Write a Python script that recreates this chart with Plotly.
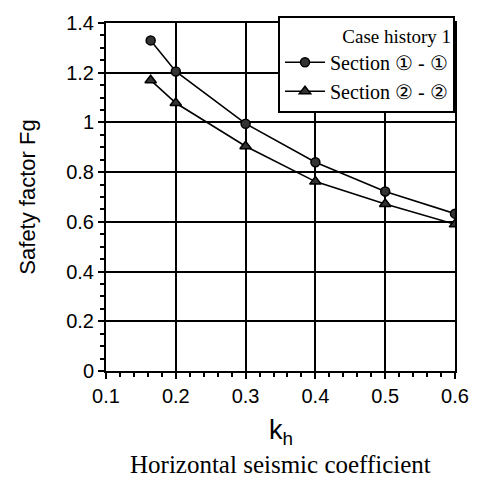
import plotly.graph_objects as go

kh = [0.164, 0.2, 0.3, 0.4, 0.5, 0.6]
fg_sec1 = [1.33, 1.205, 0.995, 0.84, 0.722, 0.633]
fg_sec2 = [1.17, 1.078, 0.904, 0.762, 0.672, 0.59]
x_ticks = [0.1, 0.2, 0.3, 0.4, 0.5, 0.6]
y_ticks = [0, 0.2, 0.4, 0.6, 0.8, 1.0, 1.2, 1.4]
y_labels = ["0", "0.2", "0.4", "0.6", "0.8", "1", "1.2", "1.4"]

fig = go.Figure()
fig.add_trace(go.Scatter(
    x=kh, y=fg_sec1, mode="lines+markers", name="Section \u2460 - \u2460",
    line=dict(color="black", width=1.6),
    marker=dict(symbol="circle", size=9, color="#333", line=dict(color="black", width=1.5)),
))
fig.add_trace(go.Scatter(
    x=kh, y=fg_sec2, mode="lines+markers", name="Section \u2461 - \u2461",
    line=dict(color="black", width=1.6),
    marker=dict(symbol="triangle-up", size=10, color="#333", line=dict(color="black", width=1.5)),
))

axis_font = dict(family="Liberation Sans, Arial", size=20, color="black")
fig.update_xaxes(
    range=[0.1, 0.6], tickvals=x_ticks, ticktext=[str(v) for v in x_ticks],
    showgrid=True, gridcolor="black", gridwidth=1.6,
    showline=True, linecolor="black", linewidth=2, mirror=True,
    ticks="outside", ticklen=6, tickwidth=1.5, tickcolor="black",
    minor=dict(dtick=0.02, ticks="outside", ticklen=4, tickwidth=1.5, tickcolor="black", showgrid=False),
    tickfont=axis_font, zeroline=False,
)
fig.update_yaxes(
    range=[0, 1.4], tickvals=y_ticks, ticktext=y_labels,
    showgrid=True, gridcolor="black", gridwidth=1.6,
    showline=True, linecolor="black", linewidth=2, mirror=True,
    ticks="outside", ticklen=6, tickwidth=1.5, tickcolor="black",
    minor=dict(dtick=0.05, ticks="outside", ticklen=4, tickwidth=1.5, tickcolor="black", showgrid=False),
    tickfont=axis_font, zeroline=False,
    title=dict(text="Safety factor Fg", font=dict(family="Liberation Sans, Arial", size=22, color="black"), standoff=24),
)

fig.add_annotation(
    text="k<sub>h</sub>", xref="paper", yref="paper", x=0.5, y=-0.175, xanchor="center", yanchor="middle",
    showarrow=False, font=dict(family="Liberation Sans, Arial", size=27, color="black"),
)
fig.add_annotation(
    text="Horizontal seismic coefficient", xref="paper", yref="paper", x=0.5, y=-0.31,
    xanchor="center", yanchor="bottom", borderpad=0,
    showarrow=False, font=dict(family="Liberation Serif, Times New Roman", size=25, color="black"),
)

fig.update_layout(
    width=481, height=481,
    margin=dict(l=106, r=19, t=16, b=110),
    paper_bgcolor="white", plot_bgcolor="white",
    showlegend=True,
    legend=dict(
        x=1, y=1.02, xanchor="right", yanchor="top",
        bgcolor="white", bordercolor="black", borderwidth=2,
        font=dict(family="Liberation Serif, Times New Roman", size=20, color="black"),
        title=dict(text="Case history 1", side="top right",
                   font=dict(family="Liberation Serif, Times New Roman", size=19, color="black")),
        itemwidth=40, tracegroupgap=2,
    ),
)

fig.write_html("out.html")
